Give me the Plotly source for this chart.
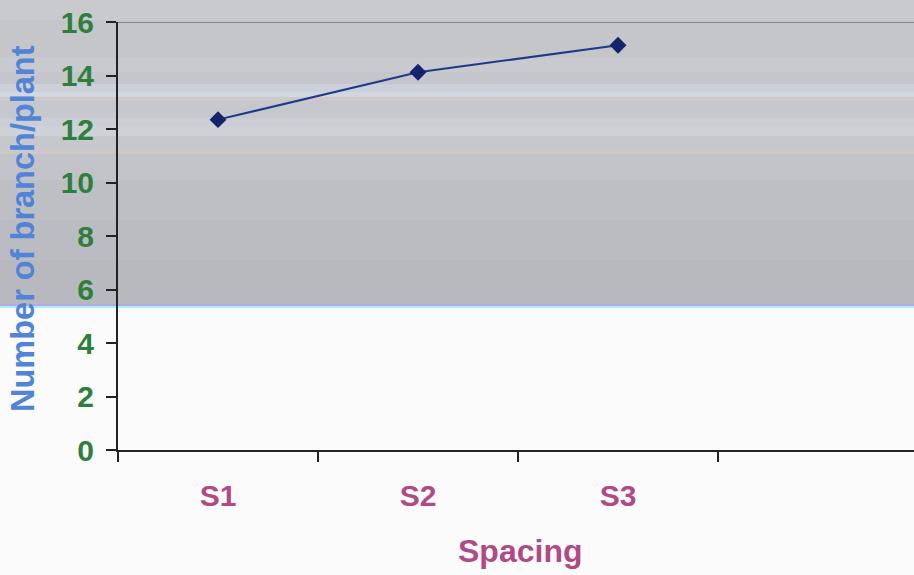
import plotly.graph_objects as go

# Number of branches per plant at each plant spacing
spacing = ["S1", "S2", "S3"]
branches = [12.35, 14.12, 15.13]

y_ticks = [0, 2, 4, 6, 8, 10, 12, 14, 16]

W, H = 914, 575
L, T, B = 118, 22, 125
plot_h = H - T - B
plot_w = W - L


def py(px):
    """Convert a pixel row (from top) to paper y."""
    return (H - B - px) / plot_h


def px_x(px):
    return (px - L) / plot_w


fig = go.Figure()

fig.add_trace(go.Scatter(
    x=spacing,
    y=branches,
    mode="lines+markers",
    line=dict(color="#1f3a8a", width=2),
    marker=dict(symbol="diamond", size=13, color="#14246a"),
    showlegend=False,
))

# scanned-page shading: grey band with soft light streaks over the upper part
bands = [
    (0, 20, "#c9cacd"),
    (20, 58, "#c5c6ca"),
    (58, 72, "#c8cad0"),
    (72, 84, "#c4c6cc"),
    (84, 92, "#ccd0d8"),
    (92, 97, "#d2d6de"),
    (97, 101, "#cdc9cb"),
    (101, 118, "#c6c8ce"),
    (118, 126, "#cbced5"),
    (126, 136, "#ced1d8"),
    (136, 148, "#c6c8ce"),
    (148, 154, "#ccc7c8"),
    (154, 180, "#c2c3c8"),
    (180, 220, "#bebfc4"),
    (220, 260, "#bbbcc1"),
    (260, 304, "#b8b9be"),
    (304, 306, "#b4a8e6"),
    (306, 308, "#aef0f2"),
]
shapes = []
for y0, y1, c in bands:
    shapes.append(dict(
        type="rect", xref="paper", yref="paper",
        x0=px_x(0), x1=1.0, y0=py(y1), y1=py(y0),
        fillcolor=c, line=dict(width=0), layer="below",
    ))
# top border of the plot area
shapes.append(dict(
    type="line", xref="paper", yref="y",
    x0=0, x1=1, y0=16, y1=16,
    line=dict(color="#6e6e6e", width=1.5),
))

font_family = "Liberation Sans, Arial, sans-serif"

fig.update_layout(
    width=W, height=H,
    margin=dict(l=L, r=0, t=T, b=B),
    paper_bgcolor="#fbfbfb",
    plot_bgcolor="rgba(0,0,0,0)",
    shapes=shapes,
    xaxis=dict(
        type="category",
        range=[-0.5, 3.48],
        tickson="boundaries",
        ticks="outside", ticklen=10, tickwidth=2, tickcolor="#222",
        showline=True, linecolor="#222", linewidth=2,
        showgrid=False, zeroline=False,
        tickfont=dict(family=font_family, size=30, color="#b04a86", weight="bold"),
        ticklabelstandoff=18,
    ),
    yaxis=dict(
        range=[0, 16],
        tickvals=y_ticks,
        ticks="outside", ticklen=10, tickwidth=2, tickcolor="#222",
        showline=True, linecolor="#222", linewidth=2,
        showgrid=False, zeroline=False,
        tickfont=dict(family=font_family, size=30, color="#2f7f3c", weight="bold"),
        ticklabelstandoff=6,
    ),
    annotations=[
        dict(text="Number of branch/plant", xref="paper", yref="paper",
             x=px_x(23), y=py(229), xanchor="center", yanchor="middle",
             textangle=-90, showarrow=False,
             font=dict(family=font_family, size=32.5, color="#4f84d8", weight="bold")),
        dict(text="Spacing", xref="paper", yref="paper",
             x=px_x(520), y=py(551), xanchor="center", yanchor="middle",
             showarrow=False,
             font=dict(family=font_family, size=32, color="#b04a86", weight="bold")),
    ],
)

fig.write_html("out.html")
